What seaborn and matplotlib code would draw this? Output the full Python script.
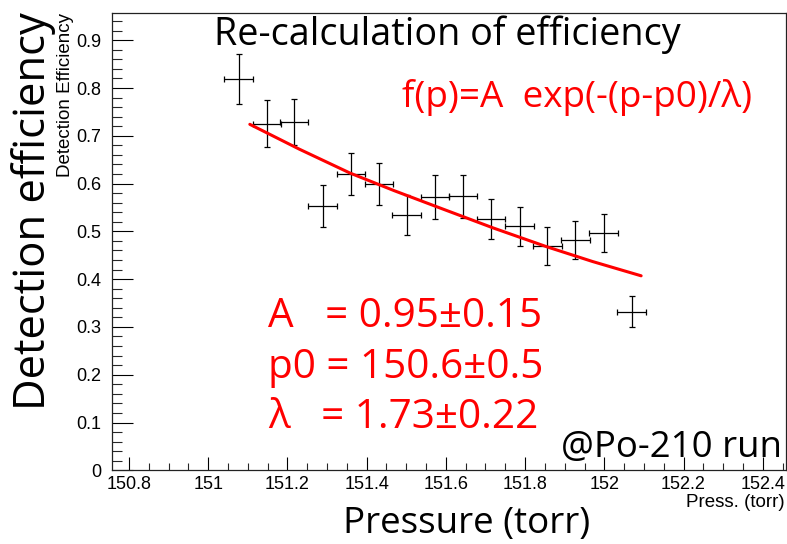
import numpy as np
import pandas as pd
import matplotlib
matplotlib.use("Agg")
import matplotlib.pyplot as plt
import seaborn as sns
from matplotlib.ticker import MultipleLocator, FuncFormatter

# ---- data ----
pressure = [151.077, 151.148, 151.217, 151.289, 151.360, 151.431, 151.501,
            151.573, 151.643, 151.714, 151.786, 151.856, 151.927, 151.998, 152.069]
efficiency = [0.819, 0.725, 0.728, 0.553, 0.620, 0.600, 0.534,
              0.571, 0.573, 0.526, 0.511, 0.470, 0.482, 0.496, 0.332]
eff_err = [0.052, 0.049, 0.048, 0.043, 0.043, 0.044, 0.042,
           0.046, 0.044, 0.042, 0.041, 0.040, 0.040, 0.040, 0.033]
press_err = [0.036] * 15

fit_p = [151.105, 151.23, 151.358, 151.47, 151.585, 151.72, 151.854, 151.97, 152.093]
fit_eff = [0.724, 0.672, 0.622, 0.585, 0.549, 0.507, 0.468, 0.437, 0.407]

x_ticks = [150.8, 151.0, 151.2, 151.4, 151.6, 151.8, 152.0, 152.2, 152.4]
y_ticks = [0, 0.1, 0.2, 0.3, 0.4, 0.5, 0.6, 0.7, 0.8, 0.9]

title_text = "Re-calculation of efficiency"
formula_text = "f(p)=A  exp(-(p-p0)/λ)"
param_lines = ["A   = 0.95±0.15", "p0 = 150.6±0.5", "λ   = 1.73±0.22"]
run_text = "@Po-210 run"

sns.set_theme(style="ticks")
plt.rcParams["font.family"] = ["Liberation Sans", "DejaVu Sans"]

W, H = 787, 544
fig = plt.figure(figsize=(W / 100, H / 100), dpi=100)
ax = fig.add_axes([112 / W, 1 - 470.3 / H, (785.7 - 112) / W, (470.3 - 12.5) / H])

ax.errorbar(pressure, efficiency, yerr=eff_err, xerr=press_err, fmt="none",
            ecolor="black", elinewidth=0.9, capsize=2, capthick=0.9, zorder=2)

fit_df = pd.DataFrame({"p": fit_p, "eff": fit_eff})
sns.lineplot(data=fit_df, x="p", y="eff", ax=ax, color="#ff0000",
             linewidth=2.2, zorder=3)

ax.set_xlim(150.757, 152.458)
ax.set_ylim(0, 0.958)
ax.set_xticks(x_ticks)
ax.set_yticks(y_ticks)
ax.xaxis.set_minor_locator(MultipleLocator(0.05))
ax.yaxis.set_minor_locator(MultipleLocator(0.02))
fmt = FuncFormatter(lambda v, pos: "%g" % round(v, 3))
ax.xaxis.set_major_formatter(fmt)
ax.yaxis.set_major_formatter(fmt)

ax.tick_params(axis="y", which="major", direction="in", length=15, width=0.8,
               labelsize=13, pad=8, colors="black")
ax.tick_params(axis="y", which="minor", direction="in", length=7, width=0.8)
ax.tick_params(axis="x", which="major", direction="in", length=9.5, width=0.8,
               labelsize=13, pad=4, colors="black")
ax.tick_params(axis="x", which="minor", direction="in", length=5, width=0.8)
for s in ax.spines.values():
    s.set_linewidth(0.9)
    s.set_color("#222222")
ax.set_xlabel("")
ax.set_ylabel("")

# ROOT-style small axis titles
fig.text(785 / W, 1 - 494 / H, "Press. (torr)", ha="right", va="top",
         fontsize=13.5, color="black")
fig.text(65 / W, 1 - 13 / H, "Detection Efficiency", ha="center", va="top",
         rotation=90, fontsize=13.5, color="black")

# big overlay texts
big = ["Open Sans", "DejaVu Sans"]
fig.text(447 / W, 1 - 45 / H, title_text, ha="center", va="baseline",
         fontsize=27.2, family=big, color="black")
fig.text(402 / W, 1 - 107 / H, formula_text, ha="left", va="baseline",
         fontsize=26.6, family=big, color="#ff0000")
for i, line in enumerate(param_lines):
    fig.text(268 / W, 1 - (327 + 50.5 * i) / H, line, ha="left", va="baseline",
             fontsize=29.2, family=big, color="#ff0000")
fig.text(782 / W, 1 - 457 / H, run_text, ha="right", va="baseline",
         fontsize=26.4, family=big, color="black")
fig.text(467 / W, 1 - 533 / H, "Pressure (torr)", ha="center", va="baseline",
         fontsize=26.5, family=big, color="black")
fig.text(45 / W, 1 - 211 / H, "Detection efficiency", ha="center", va="baseline",
         rotation=90, rotation_mode="anchor", fontsize=31.4, family=big,
         color="black")

fig.savefig("out.png", dpi=100)
